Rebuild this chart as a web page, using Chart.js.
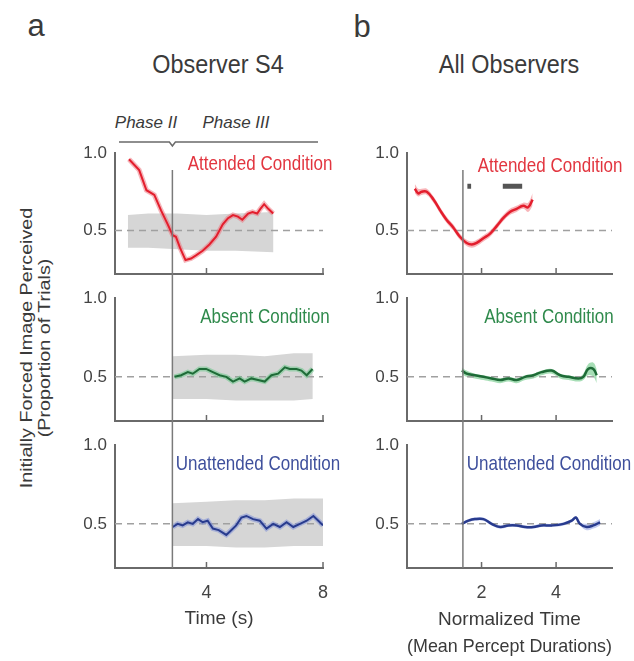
<!DOCTYPE html>
<html lang="en">
<head>
<meta charset="UTF-8">
<title>Observer S4 / All Observers</title>
<script src="https://cdn.jsdelivr.net/npm/chart.js"></script>
<style>
  body { margin: 0; background: #fff; font-family: 'Liberation Sans', Arial, sans-serif; color: #3a3a3a; }
  #fig { position: relative; width: 634px; height: 661px; overflow: hidden; }
  .panel { position: absolute; }
  .lbl { position: absolute; white-space: nowrap; line-height: 1; z-index: 2; transform: translate(-50%, -50%); }
  .cond { font-size: 21px; }
</style>
</head>
<body>
<div id="fig">
  <div class="panel" style="left:60px;top:135px;width:270px;height:145px"><canvas id="aTop"></canvas></div>
  <div class="panel" style="left:60px;top:280px;width:270px;height:147px"><canvas id="aMid"></canvas></div>
  <div class="panel" style="left:60px;top:427px;width:270px;height:233px"><canvas id="aBot"></canvas></div>
  <div class="panel" style="left:350px;top:135px;width:270px;height:145px"><canvas id="bTop"></canvas></div>
  <div class="panel" style="left:350px;top:280px;width:270px;height:147px"><canvas id="bMid"></canvas></div>
  <div class="panel" style="left:350px;top:427px;width:270px;height:233px"><canvas id="bBot"></canvas></div>

  <div class="lbl" style="left:36px;top:25px;font-size:31px">a</div>
  <div class="lbl" style="left:362px;top:26px;font-size:31px">b</div>
  <div class="lbl" style="left:218px;top:64px;font-size:26px;transform:translate(-50%,-50%) scaleX(0.9)">Observer S4</div>
  <div class="lbl" style="left:509px;top:64px;font-size:26px;transform:translate(-50%,-50%) scaleX(0.9)">All Observers</div>
  <div class="lbl" style="left:146px;top:122px;font-size:17px;font-style:italic">Phase II</div>
  <div class="lbl" style="left:236px;top:122px;font-size:17px;font-style:italic">Phase III</div>

  <div class="lbl cond" style="left:260px;top:162px;color:#e2353f;transform:translate(-50%,-50%) scaleX(0.81)">Attended Condition</div>
  <div class="lbl cond" style="left:550px;top:164px;color:#e2353f;transform:translate(-50%,-50%) scaleX(0.81)">Attended Condition</div>
  <div class="lbl cond" style="left:265px;top:315px;color:#2f8a4c;transform:translate(-50%,-50%) scaleX(0.81)">Absent Condition</div>
  <div class="lbl cond" style="left:549px;top:315px;color:#2f8a4c;transform:translate(-50%,-50%) scaleX(0.81)">Absent Condition</div>
  <div class="lbl cond" style="left:258px;top:462px;color:#3e4f9c;transform:translate(-50%,-50%) scaleX(0.81)">Unattended Condition</div>
  <div class="lbl cond" style="left:549px;top:462px;color:#3e4f9c;transform:translate(-50%,-50%) scaleX(0.81)">Unattended Condition</div>

  <div class="lbl" style="left:26px;top:348px;font-size:17px;transform:translate(-50%,-50%) rotate(-90deg) scaleX(1.16)">Initially Forced Image Perceived</div>
  <div class="lbl" style="left:44px;top:348px;font-size:17px;transform:translate(-50%,-50%) rotate(-90deg) scaleX(1.16)">(Proportion of Trials)</div>
</div>

<script>
// ---- data: panel a (Observer S4, time in s) ----
const attTimeA = [1.34, 1.69, 1.94, 2.21, 2.44, 2.67, 2.84, 2.95, 3.09, 3.28, 3.47, 3.64, 3.87, 4.10, 4.33, 4.56, 4.74, 4.91, 5.08, 5.23, 5.43, 5.58, 5.74, 5.85, 5.98, 6.12, 6.29];
const attPropA = [0.96, 0.89, 0.76, 0.73, 0.63, 0.54, 0.47, 0.46, 0.39, 0.31, 0.32, 0.34, 0.37, 0.41, 0.46, 0.54, 0.58, 0.60, 0.59, 0.57, 0.61, 0.62, 0.61, 0.64, 0.67, 0.64, 0.61];
const attBandTimeA = [1.30, 2.0, 3.0, 4.0, 5.0, 6.30];
const attBandHiA = [0.60, 0.61, 0.61, 0.60, 0.61, 0.62];
const attBandLoA = [0.39, 0.39, 0.38, 0.37, 0.37, 0.36];

const absTimeA = [2.90, 3.13, 3.36, 3.53, 3.76, 3.99, 4.22, 4.45, 4.68, 4.91, 5.14, 5.31, 5.54, 5.77, 6.00, 6.23, 6.46, 6.69, 6.86, 7.09, 7.26, 7.44, 7.64];
const absPropA = [0.50, 0.51, 0.53, 0.52, 0.55, 0.55, 0.53, 0.51, 0.50, 0.47, 0.49, 0.47, 0.49, 0.48, 0.47, 0.51, 0.52, 0.56, 0.55, 0.55, 0.54, 0.51, 0.55];
const absBandTimeA = [2.84, 4.0, 5.0, 6.0, 7.0, 7.65];
const absBandHiA = [0.63, 0.64, 0.64, 0.63, 0.65, 0.65];
const absBandLoA = [0.36, 0.36, 0.35, 0.35, 0.35, 0.36];

const unaTimeA = [2.84, 3.01, 3.18, 3.36, 3.53, 3.71, 3.87, 4.04, 4.22, 4.42, 4.68, 4.85, 5.02, 5.20, 5.37, 5.60, 5.83, 6.06, 6.29, 6.52, 6.75, 6.98, 7.21, 7.44, 7.67, 7.84, 8.00];
const unaPropA = [0.48, 0.50, 0.49, 0.51, 0.50, 0.53, 0.51, 0.52, 0.47, 0.46, 0.43, 0.46, 0.49, 0.54, 0.55, 0.53, 0.52, 0.47, 0.50, 0.48, 0.51, 0.48, 0.50, 0.52, 0.55, 0.52, 0.49];
const unaBandTimeA = [2.84, 4.0, 5.0, 6.0, 7.0, 8.0];
const unaBandHiA = [0.63, 0.64, 0.65, 0.65, 0.66, 0.66];
const unaBandLoA = [0.36, 0.36, 0.35, 0.35, 0.36, 0.36];

// ---- data: panel b (all observers, normalized time) ----
const attTimeB = [0.21, 0.30, 0.39, 0.53, 0.71, 0.89, 1.06, 1.24, 1.42, 1.60, 1.74, 1.87, 2.05, 2.23, 2.41, 2.58, 2.76, 2.94, 3.12, 3.25, 3.37];
const attPropB = [0.77, 0.74, 0.75, 0.75, 0.70, 0.63, 0.57, 0.52, 0.46, 0.42, 0.41, 0.42, 0.45, 0.48, 0.53, 0.58, 0.62, 0.64, 0.66, 0.65, 0.70];
const attHiB   = [0.80, 0.77, 0.77, 0.77, 0.72, 0.65, 0.59, 0.54, 0.48, 0.44, 0.43, 0.44, 0.47, 0.50, 0.55, 0.60, 0.64, 0.66, 0.68, 0.68, 0.74];
const attLoB   = [0.74, 0.72, 0.73, 0.73, 0.68, 0.61, 0.55, 0.50, 0.44, 0.40, 0.39, 0.40, 0.43, 0.46, 0.51, 0.56, 0.60, 0.62, 0.64, 0.62, 0.66];
const sigStartB = [1.62, 2.57];
const sigEndB = [1.72, 3.09];
const sigLevelB = 0.785;

const absTimeB = [1.47, 1.60, 1.82, 2.05, 2.27, 2.50, 2.72, 2.94, 3.17, 3.39, 3.61, 3.88, 4.11, 4.33, 4.60, 4.73, 4.86, 5.00, 5.09];
const absPropB = [0.54, 0.52, 0.51, 0.50, 0.49, 0.48, 0.49, 0.48, 0.50, 0.51, 0.53, 0.54, 0.51, 0.50, 0.49, 0.50, 0.55, 0.55, 0.51];
const absHiB   = [0.56, 0.54, 0.52, 0.51, 0.50, 0.49, 0.50, 0.49, 0.51, 0.52, 0.54, 0.55, 0.52, 0.51, 0.50, 0.52, 0.58, 0.59, 0.55];
const absLoB   = [0.52, 0.50, 0.49, 0.48, 0.47, 0.46, 0.47, 0.46, 0.48, 0.49, 0.51, 0.52, 0.49, 0.48, 0.47, 0.48, 0.51, 0.50, 0.46];

const unaTimeB = [1.47, 1.65, 1.82, 2.05, 2.27, 2.50, 2.72, 2.94, 3.17, 3.39, 3.61, 3.88, 4.20, 4.42, 4.53, 4.64, 4.82, 5.00, 5.18];
const unaPropB = [0.50, 0.52, 0.53, 0.53, 0.50, 0.48, 0.49, 0.49, 0.48, 0.48, 0.49, 0.49, 0.50, 0.52, 0.54, 0.50, 0.48, 0.49, 0.51];
const unaHiB   = [0.51, 0.53, 0.54, 0.54, 0.51, 0.49, 0.50, 0.50, 0.49, 0.49, 0.50, 0.50, 0.51, 0.53, 0.55, 0.51, 0.50, 0.51, 0.53];
const unaLoB   = [0.49, 0.51, 0.52, 0.52, 0.49, 0.47, 0.48, 0.48, 0.47, 0.47, 0.48, 0.48, 0.49, 0.51, 0.53, 0.49, 0.46, 0.47, 0.49];

const chance = 0.5;
const yTicks = [0.5, 1.0];
const xTicksA = [4, 8];
const xTicksB = [2, 4];
const phaseA = 2.83;   // start of phase III (s)
const phaseB = 1.5;

Chart.defaults.font.family = "'Liberation Sans', Arial, sans-serif";

const RED = '#e31e2d', GREEN = '#1e6b37', BLUE = '#283b8e';

function pts(xs, ys) { return xs.map((x, i) => ({ x: x, y: ys[i] })); }

// phase divider, inward x ticks and the phase bracket on top
function decor(o) {
  return {
    id: 'decor',
    afterDatasetsDraw(chart) {
      const { ctx, chartArea: a, scales: { x } } = chart;
      ctx.save();
      ctx.strokeStyle = '#7a7a7a';
      ctx.lineWidth = 1.5;
      const px = x.getPixelForValue(o.phase);
      ctx.beginPath();
      ctx.moveTo(px, o.first ? a.top + 17 : 0);
      ctx.lineTo(px, o.last ? a.bottom : chart.height);
      ctx.stroke();
      ctx.strokeStyle = '#6a6a6a';
      o.ticks.forEach(v => {
        const tx = x.getPixelForValue(v);
        ctx.beginPath(); ctx.moveTo(tx, a.bottom); ctx.lineTo(tx, a.bottom - 6); ctx.stroke();
      });
      if (o.bracket) {
        const by = a.top - 11;
        ctx.beginPath();
        ctx.moveTo(a.left + 4, by); ctx.lineTo(px - 3, by); ctx.lineTo(px, by + 4);
        ctx.lineTo(px + 3, by); ctx.lineTo(a.right - 5, by);
        ctx.stroke();
      }
      ctx.restore();
    }
  };
}

function makePanel(id, o) {
  const ds = [];
  if (o.sigStart) {
    const sig = [];
    o.sigStart.forEach((s, i) => {
      if (i > 0) sig.push({ x: s, y: null });
      sig.push({ x: s, y: o.sigLevel }, { x: o.sigEnd[i], y: o.sigLevel });
    });
    ds.push({ data: sig, borderColor: '#555', borderWidth: 5, borderCapStyle: 'butt', spanGaps: false });
  }
  ds.push({ data: pts(o.x, o.y), borderColor: o.color, borderWidth: o.lw, tension: o.tension });
  if (o.halo) ds.push({ data: pts(o.x, o.y), borderColor: o.halo, borderWidth: 5, tension: o.tension });
  ds.push({ data: [{ x: o.min, y: chance }, { x: o.max, y: chance }], borderColor: '#a0a0a0', borderWidth: 1.5, borderDash: [7, 5] });
  ds.push({ data: pts(o.bx, o.hi), borderWidth: 0, borderColor: 'rgba(0,0,0,0)', fill: '+1', backgroundColor: o.band, tension: o.tension });
  ds.push({ data: pts(o.bx, o.lo), borderWidth: 0, borderColor: 'rgba(0,0,0,0)', tension: o.tension });

  new Chart(document.getElementById(id), {
    type: 'line',
    data: { datasets: ds },
    options: {
      responsive: true,
      maintainAspectRatio: false,
      animation: false,
      elements: { point: { radius: 0 } },
      layout: { padding: { top: 18, right: o.padRight, left: 0, bottom: 0 } },
      plugins: { legend: { display: false }, tooltip: { enabled: false } },
      scales: {
        x: {
          type: 'linear', min: o.min, max: o.max,
          afterBuildTicks: s => { s.ticks = o.xticks.map(v => ({ value: v })); },
          afterFit: s => { s.height = o.xh; s.paddingLeft = 0; s.paddingRight = 0; },
          grid: { display: false, drawTicks: false },
          border: { color: '#6a6a6a', width: 2 },
          ticks: { display: !!o.title, padding: 14, color: '#444', font: { size: 18 } },
          title: o.title ? { display: true, text: o.title, color: '#3a3a3a', font: { size: 19, lineHeight: 1.42 }, padding: { top: 0, bottom: o.titlePad } } : { display: false }
        },
        y: {
          min: 0.22, max: 1.0,
          afterBuildTicks: s => { s.ticks = yTicks.map(v => ({ value: v })); },
          afterFit: s => { s.width = o.yw; s.paddingTop = 0; s.paddingBottom = 0; },
          grid: { display: false, drawTicks: false },
          border: { color: '#6a6a6a', width: 2 },
          ticks: { padding: 8, color: '#444', font: { size: 17 }, callback: v => v.toFixed(1) }
        }
      }
    },
    plugins: [decor({ phase: o.phase, ticks: o.xticks, first: o.first, last: !!o.title, bracket: o.bracket })]
  });
}

const baseA = { min: 0.86, max: 8, xticks: xTicksA, phase: phaseA, yw: 55, padRight: 7, tension: 0, lw: 2, band: '#d6d6d6' };
const baseB = { min: 0, max: 5.5, xticks: xTicksB, phase: phaseB, yw: 57, padRight: 8, tension: 0.4, lw: 2.5 };

makePanel('aTop', Object.assign({}, baseA, { x: attTimeA, y: attPropA, bx: attBandTimeA, hi: attBandHiA, lo: attBandLoA, color: RED, halo: 'rgba(236,110,120,0.5)', xh: 6, first: true, bracket: true }));
makePanel('aMid', Object.assign({}, baseA, { x: absTimeA, y: absPropA, bx: absBandTimeA, hi: absBandHiA, lo: absBandLoA, color: GREEN, halo: 'rgba(110,200,140,0.55)', xh: 6 }));
makePanel('aBot', Object.assign({}, baseA, { x: unaTimeA, y: unaPropA, bx: unaBandTimeA, hi: unaBandHiA, lo: unaBandLoA, color: BLUE, halo: 'rgba(130,145,215,0.55)', xh: 92, title: 'Time (s)', titlePad: 27.5 }));

makePanel('bTop', Object.assign({}, baseB, { x: attTimeB, y: attPropB, bx: attTimeB, hi: attHiB, lo: attLoB, color: RED, band: 'rgba(240,90,100,0.45)', xh: 6, first: true, sigStart: sigStartB, sigEnd: sigEndB, sigLevel: sigLevelB }));
makePanel('bMid', Object.assign({}, baseB, { x: absTimeB, y: absPropB, bx: absTimeB, hi: absHiB, lo: absLoB, color: GREEN, band: 'rgba(80,190,110,0.5)', xh: 6 }));
makePanel('bBot', Object.assign({}, baseB, { x: unaTimeB, y: unaPropB, bx: unaTimeB, hi: unaHiB, lo: unaLoB, color: BLUE, band: 'rgba(120,140,220,0.45)', xh: 92, title: ['Normalized Time', '(Mean Percept Durations)'], titlePad: 0 }));
</script>
</body>
</html>
